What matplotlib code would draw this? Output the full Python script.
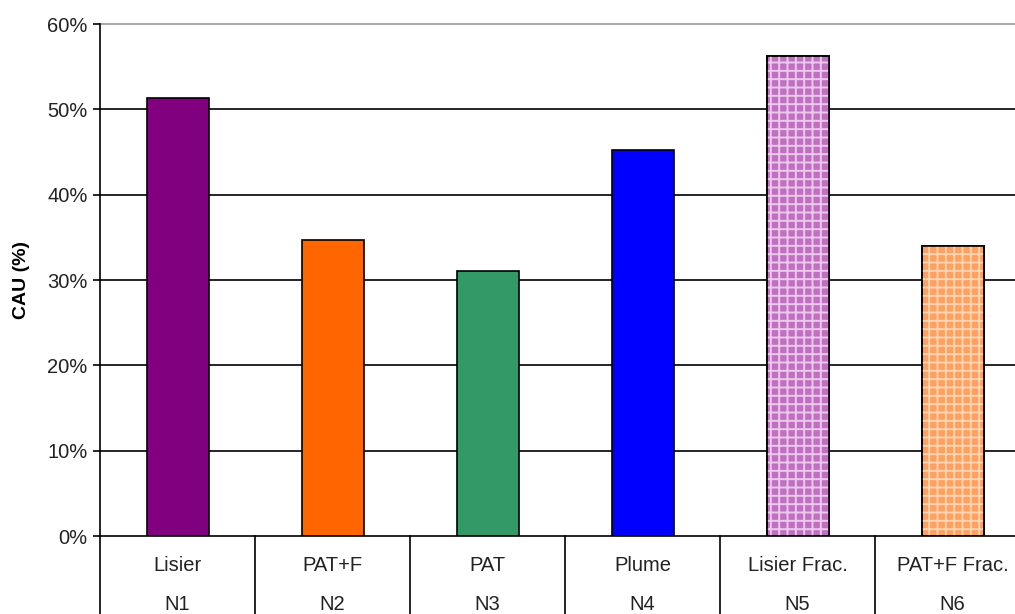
import numpy as np
import matplotlib.pyplot as plt
from matplotlib.ticker import PercentFormatter

plt.rcParams['font.family'] = ['Liberation Sans', 'DejaVu Sans']
plt.rcParams['hatch.linewidth'] = 1.4

# CAU per treatment
treatments = ['Lisier', 'PAT+F', 'PAT', 'Plume', 'Lisier Frac.', 'PAT+F Frac.']
codes = ['N1', 'N2', 'N3', 'N4', 'N5', 'N6']
cau = [51.3, 34.7, 31.0, 45.2, 56.2, 34.0]
colors = ['#800080', '#FF6600', '#339966', '#0000FF', '#C070C0', '#FFA060']
hatch_colors = [None, None, None, None, '#ECC8EC', '#FFD4B0']

fig = plt.figure(figsize=(10.15, 6.14), dpi=100)
ax = fig.add_axes([100 / 1015, 78 / 614, 930 / 1015, 512 / 614])

x = np.arange(len(cau))
ax.bar(x, cau, width=0.4, color=colors, edgecolor='black', linewidth=1.2, zorder=3)
for xi, v, hc in zip(x, cau, hatch_colors):
    if hc:
        ax.bar(xi, v, width=0.4, facecolor='none', edgecolor=hc, hatch='++',
               linewidth=0, zorder=4)
        ax.bar(xi, v, width=0.4, facecolor='none', edgecolor='black',
               linewidth=1.2, zorder=5)

ax.set_xlim(-0.5, len(cau) - 0.5)
ax.set_ylim(0, 60)
ax.set_yticks(np.arange(0, 61, 10))
ax.yaxis.set_major_formatter(PercentFormatter(decimals=0))
# horizontal gridlines, the top one lighter
for yv in range(10, 60, 10):
    ax.axhline(yv, color='black', linewidth=1.2, zorder=1)
ax.axhline(60, color='#999999', linewidth=1.2, zorder=1, clip_on=False)
ax.tick_params(axis='y', direction='out', length=5, width=1.2, labelsize=14.5,
               labelcolor='#222222', pad=4)
ax.set_xticks([])
for s in ['top', 'right']:
    ax.spines[s].set_visible(False)
ax.spines['left'].set_linewidth(1.2)
ax.spines['bottom'].set_linewidth(1.2)

ax.set_ylabel('CAU (%)', fontsize=14, fontweight='bold')
ax.yaxis.set_label_coords(-0.075, 0.5)

# category table under the axis
trans = ax.get_xaxis_transform()
for b in np.arange(-0.5, len(cau), 1.0):
    ax.plot([b, b], [0, -0.3], color='black', linewidth=1.2, transform=trans,
            clip_on=False)
for xi, t in zip(x, treatments):
    ax.text(xi, -0.057, t, transform=trans, ha='center', va='center',
            fontsize=14.5, color='#222222')
for xi, c in zip(x, codes):
    ax.text(xi, -0.133, c, transform=trans, ha='center', va='center',
            fontsize=14.5, color='#222222')

fig.savefig('out.png', dpi=100)
